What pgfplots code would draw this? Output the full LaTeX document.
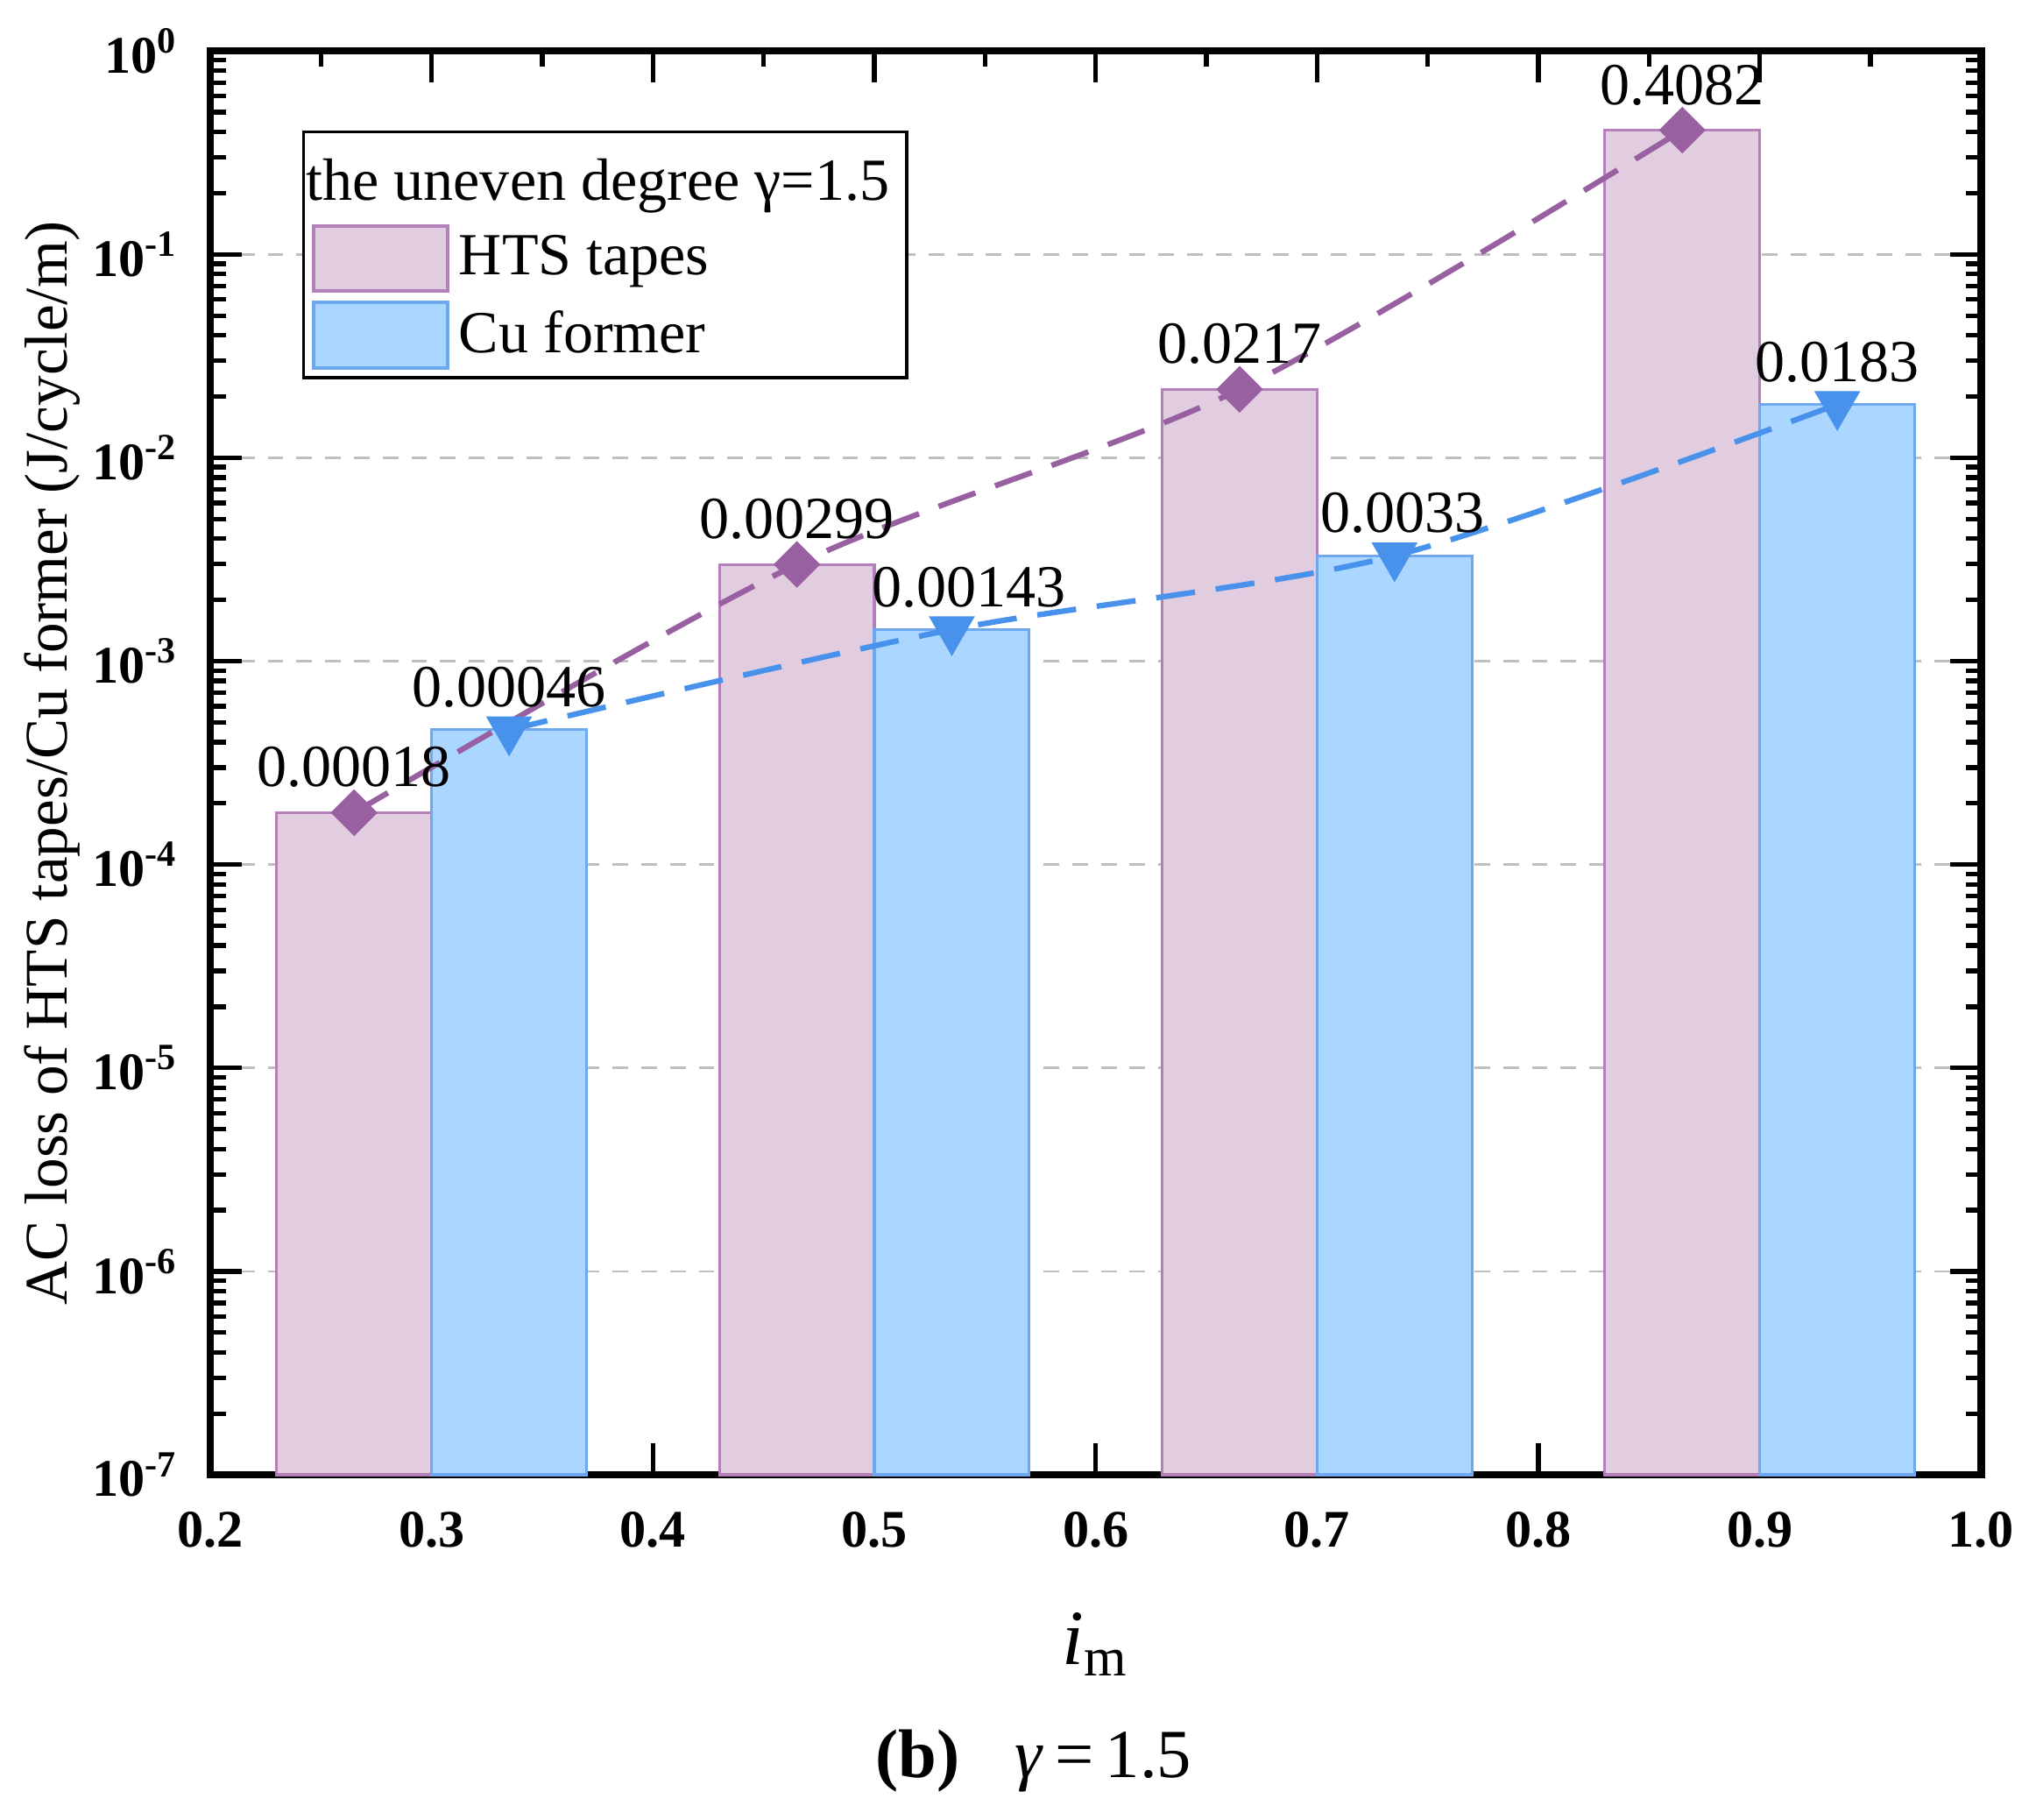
\documentclass[border=0pt]{standalone}
\usepackage{fontspec}
\setmainfont{Liberation Serif}
\usepackage{pgfplots}
\pgfplotsset{compat=1.18}

\definecolor{htsfill}{RGB}{226,204,224}
\definecolor{htsedge}{RGB}{180,128,186}
\definecolor{htsline}{RGB}{152,96,160}
\definecolor{cufill}{RGB}{170,214,255}
\definecolor{cuedge}{RGB}{110,168,240}
\definecolor{culine}{RGB}{72,146,236}

\begin{document}
\begin{tikzpicture}
\useasboundingbox (-16.1mm,-26.4mm) rectangle (139.8mm,112.9mm);
\begin{axis}[
    at={(0,0)}, anchor=south west,
    width=135.6mm, height=109.0mm, scale only axis,
    clip=false,
    xmin=0.2, xmax=1.0,
    ymode=log, ymin=1e-7, ymax=1, log origin=infty,
    xtick={0.2,0.3,0.4,0.5,0.6,0.7,0.8,0.9,1.0},
    xticklabels={\textbf{0.2},\textbf{0.3},\textbf{0.4},\textbf{0.5},\textbf{0.6},\textbf{0.7},\textbf{0.8},\textbf{0.9},\textbf{1.0}},
    minor x tick num=1,
    ytick={1e-7,1e-6,1e-5,1e-4,1e-3,1e-2,1e-1,1},
    yticklabels={\textbf{10\textsuperscript{-7}},\textbf{10\textsuperscript{-6}},\textbf{10\textsuperscript{-5}},\textbf{10\textsuperscript{-4}},\textbf{10\textsuperscript{-3}},\textbf{10\textsuperscript{-2}},\textbf{10\textsuperscript{-1}},\textbf{10\textsuperscript{0}}},
    tick align=inside,
    major tick length=2.4mm, minor tick length=1.2mm,
    tick style={black, line width=1pt},
    axis line style={line width=1.6pt},
    ymajorgrids,
    major grid style={gray!50, line width=0.5pt, dash pattern=on 1.2mm off 1mm},
    xticklabel style={font=\fontsize{11.5}{13}\selectfont, inner sep=0pt, yshift=-2.8mm},
    yticklabel style={font=\fontsize{11.5}{13}\selectfont, inner sep=0pt, xshift=-2.4mm},
    xlabel={\textit{i}\textsubscript{m}},
    xlabel style={font=\fontsize{17}{20}\selectfont, at={(axis description cs:0.5,-0.119)}, anchor=center},
    ylabel={AC loss of HTS tapes/Cu former (J/cycle/m)},
    ylabel style={font=\fontsize{13.2}{15}\selectfont, at={(axis description cs:-0.089,0.5)}, anchor=center},
    legend style={at={(axis description cs:0.052,0.944)}, anchor=north west,
        draw=black, line width=0.6pt, font=\fontsize{13}{15}\selectfont,
        inner xsep=0.6mm, inner ysep=0.6mm, row sep=0.6mm, cells={anchor=west}},
    legend image code/.code={\draw[#1, line width=0.8pt] (0mm,-2.5mm) rectangle (10.3mm,2.5mm);},
]
\addlegendimage{empty legend}
\addlegendentry{\hspace*{-11.7mm}\rule{0pt}{3.9mm}the uneven degree γ=1.5}

% bars
\addplot[ybar, bar width=0.07, bar shift=0pt, fill=htsfill, draw=htsedge, line width=0.6pt]
    coordinates {(0.265,0.00018) (0.465,0.00299) (0.665,0.0217) (0.865,0.4082)};
\addlegendentry{HTS tapes}
\addplot[ybar, bar width=0.07, bar shift=0pt, fill=cufill, draw=cuedge, line width=0.6pt]
    coordinates {(0.335,0.00046) (0.535,0.00143) (0.735,0.0033) (0.935,0.0183)};
\addlegendentry{Cu former}

% trend lines with markers and labels
\addplot[forget plot, htsline, smooth, line width=1.2pt, dash pattern=on 3mm off 1.6mm,
    mark=square*, mark size=3pt, mark options={solid, rotate=45, fill=htsline},
    nodes near coords, point meta=explicit symbolic,
    every node near coord/.append style={font=\fontsize{13}{15}\selectfont, text=black, inner sep=0pt, anchor=south, yshift=1.7mm}]
    coordinates {(0.265,0.00018) [0.00018] (0.465,0.00299) [0.00299] (0.665,0.0217) [0.0217] (0.865,0.4082) [0.4082]};
\addplot[forget plot, culine, smooth, line width=1.2pt, dash pattern=on 3mm off 1.6mm,
    mark=triangle*, mark size=4.6pt, mark options={solid, rotate=180, fill=culine},
    nodes near coords, point meta=explicit symbolic,
    every node near coord/.append style={font=\fontsize{13}{15}\selectfont, text=black, inner sep=0pt, anchor=south, yshift=1.5mm}]
    coordinates {(0.335,0.00046) [0.00046] (0.535,0.00143) [\hspace*{2.6mm}0.00143] (0.735,0.0033) [\hspace*{1.2mm}0.0033] (0.935,0.0183) [0.0183]};

\node[font=\fontsize{15}{18}\selectfont] at (axis description cs:0.465,-0.201)
    {\textbf{(b)}\hspace{0.8em}\textit{γ}\,=\,1.5};
\end{axis}
\end{tikzpicture}
\end{document}
